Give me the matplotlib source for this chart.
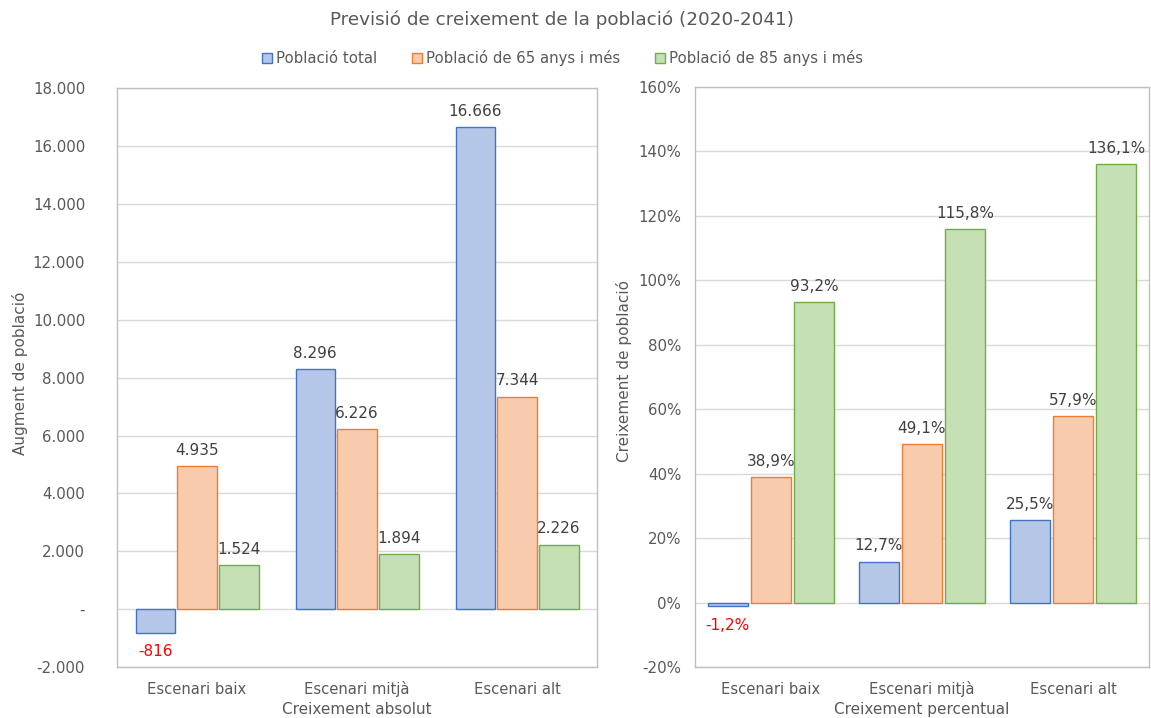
import matplotlib.pyplot as plt
import numpy as np

plt.rcParams['font.family'] = 'DejaVu Sans'

scenarios = ['Escenari baix', 'Escenari mitjà', 'Escenari alt']
series_names = ['Població total', 'Població de 65 anys i més', 'Població de 85 anys i més']

abs_total = [-816, 8296, 16666]
abs_65 = [4935, 6226, 7344]
abs_85 = [1524, 1894, 2226]

pct_total = [-1.2, 12.7, 25.5]
pct_65 = [38.9, 49.1, 57.9]
pct_85 = [93.2, 115.8, 136.1]

abs_ticks = np.arange(-2000, 18001, 2000)
pct_ticks = np.arange(-20, 161, 20)

fills = ['#B4C7E7', '#F8CBAD', '#C5E0B4']
edges = ['#4472C4', '#ED7D31', '#70AD47']
text_gray = '#595959'
label_col = '#404040'
grid_col = '#D9D9D9'
frame_col = '#BFBFBF'


def fmt_thousands(v):
    if v == 0:
        return '-'
    s = f"{abs(int(v)):,}".replace(',', '.')
    return ('-' if v < 0 else '') + s


def fmt_pct(v):
    return f"{v:.1f}".replace('.', ',') + '%'


def style_axes(ax, ypad):
    for sp in ax.spines.values():
        sp.set_color(frame_col)
        sp.set_linewidth(1.0)
    ax.tick_params(length=0, colors=text_gray)
    ax.tick_params(axis='y', pad=ypad, labelsize=10.8)
    ax.tick_params(axis='x', pad=19.5, labelsize=10.6)
    for lbl in ax.get_xticklabels():
        lbl.set_verticalalignment('baseline')
    ax.grid(axis='y', color=grid_col, linewidth=1.0)
    ax.set_axisbelow(True)


def draw_bars(ax, groups, width, step, fmt):
    x = np.arange(len(scenarios))
    handles = []
    for i, vals in enumerate(groups):
        pos = x + (i - 1) * step
        b = ax.bar(pos, vals, width, color=fills[i], edgecolor=edges[i],
                   linewidth=1.0, label=series_names[i])
        handles.append(b)
        for p, v in zip(pos, vals):
            if v < 0:
                ax.annotate(fmt(v), (p, v), xytext=(0, -8), textcoords='offset points',
                            ha='center', va='top', fontsize=11, color='red')
            else:
                ax.annotate(fmt(v), (p, v), xytext=(0, 6), textcoords='offset points',
                            ha='center', va='bottom', fontsize=11, color=label_col)
    ax.set_xticks(x)
    ax.set_xticklabels(scenarios)
    ax.set_xlim(-0.5, len(scenarios) - 0.5)
    return handles


fig = plt.figure(figsize=(11.51, 7.18), dpi=100)

ax1 = fig.add_axes([0.1017, 0.071, 0.417, 0.806])
handles = draw_bars(ax1, [abs_total, abs_65, abs_85], 0.245, 0.262, fmt_thousands)
ax1.set_ylim(-2000, 18000)
ax1.set_yticks(abs_ticks)
ax1.set_yticklabels([fmt_thousands(t) for t in abs_ticks])
style_axes(ax1, 23)
ax1.set_ylabel('Augment de població', color=text_gray, fontsize=11, va='center')
ax1.yaxis.set_label_coords(-0.203, 0.508)
ax1.set_xlabel('Creixement absolut', color=text_gray, fontsize=11, va='top')
ax1.xaxis.set_label_coords(0.5, -0.06)

ax2 = fig.add_axes([0.604, 0.071, 0.394, 0.808])
draw_bars(ax2, [pct_total, pct_65, pct_85], 0.265, 0.285, fmt_pct)
ax2.set_ylim(-20, 160)
ax2.set_yticks(pct_ticks)
ax2.set_yticklabels([f"{t}%" for t in pct_ticks])
style_axes(ax2, 10)
ax2.set_ylabel('Creixement de població', color=text_gray, fontsize=11, va='center')
ax2.yaxis.set_label_coords(-0.156, 0.51)
ax2.set_xlabel('Creixement percentual', color=text_gray, fontsize=11, va='top')
ax2.xaxis.set_label_coords(0.5, -0.06)

fig.text(0.488, 0.972, 'Previsió de creixement de la població (2020-2041)',
         ha='center', va='center', fontsize=13.2, color=text_gray)
fig.legend(handles=handles, loc='center', bbox_to_anchor=(0.489, 0.919), ncol=3,
           frameon=False, fontsize=10.7, handlelength=0.67, handleheight=0.67,
           handletextpad=0.27, columnspacing=2.35, labelcolor=text_gray)

fig.savefig('out.png', dpi=100)
